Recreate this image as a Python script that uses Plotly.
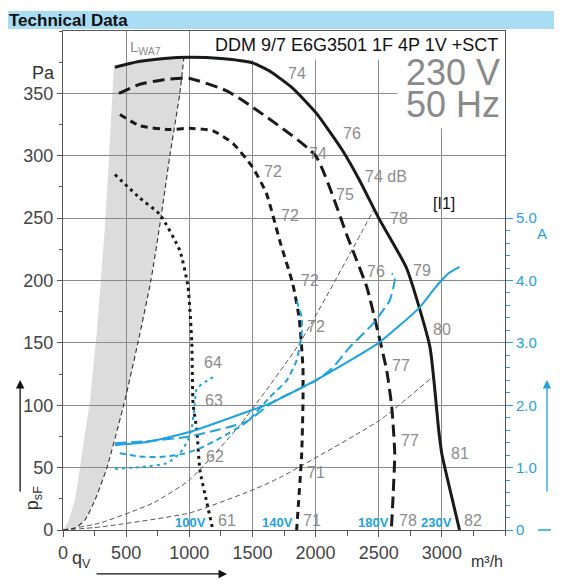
import plotly.graph_objects as go

# ---------------- data ----------------
# pressure curves  (q in m3/h, p in Pa)
q_230 = [411, 600, 800, 1000, 1250, 1500, 1650, 1820, 2007, 2215, 2350, 2500, 2720, 2905, 2975, 3000, 3070, 3140]
p_230 = [371, 375.5, 378, 379, 378, 374.5, 367, 354, 334, 304, 280, 250, 210, 147, 80, 61, 30, 0]

q_180 = [443, 600, 800, 1000, 1297, 1500, 2000, 2245, 2295, 2405, 2484, 2563, 2603, 2627, 2615, 2600]
p_180 = [350, 357, 361, 362, 352, 339, 300, 237, 224, 195, 163, 128, 99, 61, 30, 0]

q_140 = [451, 609, 846, 1000, 1187, 1345, 1500, 1610, 1716, 1820, 1870, 1900, 1900, 1890, 1850]
p_140 = [333, 324, 321, 322, 320, 310, 291, 270, 232, 197, 170, 130, 100, 61, 0]

q_100 = [411, 609, 767, 925, 990, 1020, 1030, 1060, 1084, 1139, 1187]
p_100 = [285, 266, 253, 224, 195, 150, 101, 80, 48, 22, 0]

# current curves (A)
qi_230 = [411, 664, 1000, 1520, 1640, 2000, 2500, 2825, 2930, 3005, 3062, 3140]
i_230 = [1.36, 1.41, 1.57, 1.94, 2.03, 2.40, 3.00, 3.57, 3.84, 4.02, 4.13, 4.22]

qi_180 = [411, 700, 1000, 1455, 1660, 2007, 2135, 2270, 2455, 2587, 2627, 2625, 2603]
i_180 = [1.39, 1.43, 1.50, 1.74, 2.05, 2.40, 2.60, 2.93, 3.31, 3.68, 4.00, 4.07, 4.11]

qi_140 = [450, 600, 770, 950, 1084, 1250, 1455, 1637, 1772, 1850, 1890, 1890, 1850]
i_140 = [1.23, 1.18, 1.17, 1.22, 1.31, 1.48, 1.73, 2.13, 2.40, 2.72, 3.15, 3.41, 3.68]

qi_100 = [411, 620, 823, 925, 990, 1020, 1040, 1060, 1123, 1187]
i_100 = [0.98, 1.01, 1.07, 1.23, 1.44, 1.65, 1.95, 2.27, 2.37, 2.45]

# system curves (thin dashed)
q_sys_a = [0, 293, 712, 1000, 1400, 1875, 2468]
p_sys_a = [0, 5.6, 21.6, 40, 84, 150, 258]
q_sys_b = [0, 293, 1000, 1500, 1717, 2508, 2930]
p_sys_b = [0, 2.4, 13.6, 32, 42, 88, 123]

# shaded L_WA7 zone boundaries
q_zone_left = [0, 40, 95, 134, 214, 269, 330, 365, 403]
p_zone_left = [0, 6, 24, 50, 104, 160, 240, 300, 372]
q_zone_top = [411, 600, 800, 957]
p_zone_top = [371, 375.5, 378, 378.5]
q_zone_right = [957, 925, 846, 775, 696, 593, 490, 348, 253, 174, 95, 0]
p_zone_right = [378.5, 350, 300, 250, 200, 150, 104, 50, 24, 8, 1.6, 0]

# sound level labels (dB)
lbl_text = ["74", "76", "74", "74 dB", "72", "75", "72", "78", "72", "76", "79", "72", "80",
            "77", "64", "63", "62", "61", "77", "71", "81", "71", "78", "82"]
lbl_q = [1850, 2285, 2020, 2560, 1665, 2230, 1795, 2660, 1955, 2475, 2840, 2005, 3000,
         2675, 1190, 1195, 1200, 1295, 2745, 2000, 3140, 1970, 2730, 3245]
lbl_p = [366, 318, 302, 283, 287, 269, 252, 250, 200, 207, 208, 163, 161,
         132, 134, 104, 59, 8, 72, 46, 61, 8, 8, 8]

volt_text = ["100V", "140V", "180V", "230V"]
volt_q = [1010, 1700, 2455, 2955]

x_ticks = [0, 500, 1000, 1500, 2000, 2500, 3000]
y_ticks = [0, 50, 100, 150, 200, 250, 300, 350]
a_ticks = [0, 1, 2, 3, 4, 5]
a_ticktext = ["0", "1.0", "2.0", "3.0", "4.0", "5.0"]

# ---------------- styling ----------------
BLACK = "#1a1a1a"
BLUE = "#1fa2de"
GRAY_TXT = "#8c8c8c"
GRID = "#8a8a8a"
FONT = "Liberation Sans"

fig = go.Figure()

def add_p(q, p, dash, width=3, color=BLACK):
    fig.add_trace(go.Scatter(x=q, y=p, mode="lines",
                             line=dict(color=color, width=width, dash=dash, shape="spline", smoothing=0.5),
                             hoverinfo="skip", showlegend=False))

def add_i(q, i, dash, width=2):
    fig.add_trace(go.Scatter(x=q, y=i, yaxis="y2", mode="lines",
                             line=dict(color=BLUE, width=width, dash=dash, shape="spline", smoothing=0.5),
                             hoverinfo="skip", showlegend=False))

# thin dashed system curves and zone boundary
add_p(q_sys_a, p_sys_a, "5px,3px", width=1, color="#555555")
add_p(q_sys_b, p_sys_b, "5px,3px", width=1, color="#555555")
add_p(q_zone_right[::-1], p_zone_right[::-1], "5px,3px", width=1.1, color="#333333")

# current curves
add_i(qi_230, i_230, "solid", 2)
add_i(qi_180, i_180, "11px,5px", 2)
add_i(qi_140, i_140, "6px,4px", 2)
add_i(qi_100, i_100, "3px,4px", 2)

# pressure curves
add_p(q_230, p_230, "solid", 3)
add_p(q_180, p_180, "12px,6px", 3)
add_p(q_140, p_140, "7px,5px", 3)
add_p(q_100, p_100, "3px,4px", 3)

# shaded zone as path shape below grid
zq = q_zone_left + q_zone_top + q_zone_right
zp = p_zone_left + p_zone_top + p_zone_right
path = "M " + " L ".join(f"{a},{b}" for a, b in zip(zq, zp)) + " Z"
shapes = [
    dict(type="path", path=path, xref="x", yref="y", fillcolor="#dcdcdd", line=dict(width=0), layer="below"),
    # white covers for the title / voltage areas (hide grid only)
    dict(type="rect", xref="x", yref="y", x0=1040, x1=3500, y0=377, y1=400, fillcolor="white", line=dict(width=0), layer="between"),
    dict(type="rect", xref="x", yref="y", x0=2644, x1=3500, y0=322, y1=400, fillcolor="white", line=dict(width=0), layer="between"),
    # header band
    dict(type="rect", xref="paper", yref="paper", x0=-0.131, x1=1.13, y0=1.004, y1=1.040,
         fillcolor="#a9ddf4", line=dict(width=0), layer="above"),
    # blue dash at right 0
    dict(type="line", xref="paper", yref="paper", x0=1.075, x1=1.104, y0=0, y1=0,
         line=dict(color=BLUE, width=1.5)),
]

ann = []
for t, q, p in zip(lbl_text, lbl_q, lbl_p):
    ann.append(dict(x=q, y=p, xref="x", yref="y", text=t, showarrow=False,
                    font=dict(family=FONT, size=16, color=GRAY_TXT)))
for t, q in zip(volt_text, volt_q):
    ann.append(dict(x=q, y=6, xref="x", yref="y", text="<b>" + t + "</b>", showarrow=False,
                    font=dict(family=FONT, size=13, color=BLUE)))

ann += [
    dict(x=-0.126, y=1.022, xref="paper", yref="paper", text="<b>Technical Data</b>", showarrow=False,
         xanchor="left", yanchor="middle", font=dict(family=FONT, size=17, color="#111")),
    dict(x=0.989, y=0.972, xref="paper", yref="paper", text="DDM 9/7 E6G3501 1F 4P 1V +SCT", showarrow=False,
         xanchor="right", yanchor="middle", font=dict(family=FONT, size=18, color="#111")),
    dict(x=0.993, y=0.918, xref="paper", yref="paper", text="230 V", showarrow=False, height=30,
         xanchor="right", yanchor="middle", font=dict(family=FONT, size=36, color="#8a8a8a")),
    dict(x=0.993, y=0.854, xref="paper", yref="paper", text="50 Hz", showarrow=False, height=30,
         xanchor="right", yanchor="middle", font=dict(family=FONT, size=36, color="#8a8a8a")),
    dict(x=0.891, y=0.655, xref="paper", yref="paper", text="[I1]", showarrow=False,
         font=dict(family=FONT, size=16, color="#111")),
    dict(x=0.148, y=0.99, xref="paper", yref="paper", text="L<sub>WA7</sub>", showarrow=False,
         font=dict(family=FONT, size=15, color=GRAY_TXT)),
    dict(x=-0.075, y=0.94, xref="paper", yref="paper", text="Pa", showarrow=False,
         font=dict(family=FONT, size=18, color="#333")),
    dict(x=-0.097, y=0.035, xref="paper", yref="paper", text="p<sub>sF</sub>", showarrow=False, textangle=-90,
         font=dict(family=FONT, size=18, color="#333")),
    dict(x=0.016, y=-0.086, xref="paper", yref="paper", text="q<sub>V</sub>", showarrow=False,
         font=dict(family=FONT, size=18, color="#333")),
    dict(x=1.0, y=-0.084, xref="paper", yref="paper", text="m³/h", showarrow=False, xanchor="right",
         font=dict(family=FONT, size=16, color="#333")),
    dict(x=1.1, y=0.595, xref="paper", yref="paper", text="A", showarrow=False,
         font=dict(family=FONT, size=15, color=BLUE)),
    # arrows
    dict(x=-0.097, y=0.3006, xref="paper", yref="paper", text="", showarrow=True, ax=0, ay=113,
         arrowhead=2, arrowsize=1.3, arrowwidth=1.3, arrowcolor="#111"),
    dict(x=0.371, y=-0.088, xref="paper", yref="paper", text="", showarrow=True, ax=-132, ay=0,
         arrowhead=2, arrowsize=1.3, arrowwidth=1.3, arrowcolor="#111"),
    dict(x=1.095, y=0.3006, xref="paper", yref="paper", text="", showarrow=True, ax=0, ay=113,
         arrowhead=2, arrowsize=1.3, arrowwidth=1.3, arrowcolor=BLUE),
]

# the page body has an 8px margin, so the figure is 8px smaller and shifted
fig.update_layout(
    width=554, height=577,
    margin=dict(l=55, r=57, t=23, b=55, autoexpand=False),
    paper_bgcolor="white", plot_bgcolor="white",
    showlegend=False,
    shapes=shapes, annotations=ann,
    xaxis=dict(range=[0, 3500], tickvals=x_ticks, ticktext=[str(v) for v in x_ticks], automargin=False,
               showgrid=True, gridcolor=GRID, gridwidth=1.2,
               showline=True, linecolor="#555", linewidth=1.3, mirror=True,
               ticks="outside", ticklen=6, tickcolor="#555", tickwidth=1.2,
               minor=dict(dtick=250, ticks="outside", ticklen=5, tickcolor="#555", showgrid=False),
               tickfont=dict(family=FONT, size=18, color="#444"), zeroline=False, fixedrange=True),
    yaxis=dict(range=[0, 400], tickvals=y_ticks, ticktext=[str(v) for v in y_ticks], automargin=False,
               showgrid=True, gridcolor=GRID, gridwidth=1.2,
               showline=True, linecolor="#555", linewidth=1.3, mirror=True,
               ticks="outside", ticklen=5, tickcolor="#555", tickwidth=1.2,
               minor=dict(dtick=25, ticks="outside", ticklen=3, tickcolor="#555", showgrid=False),
               tickfont=dict(family=FONT, size=18, color="#444"), zeroline=False, fixedrange=True),
    yaxis2=dict(range=[0, 8], overlaying="y", side="right", tickvals=a_ticks, ticktext=a_ticktext, automargin=False,
                showgrid=False, showline=False, zeroline=False,
                ticks="outside", ticklen=7, tickcolor=BLUE, tickwidth=1.2,
                minor=dict(tickvals=[v / 5 for v in range(1, 25)], ticks="outside", ticklen=4, tickcolor=BLUE),
                tickfont=dict(family=FONT, size=15, color=BLUE), fixedrange=True),
)

fig.write_html("out.html")
